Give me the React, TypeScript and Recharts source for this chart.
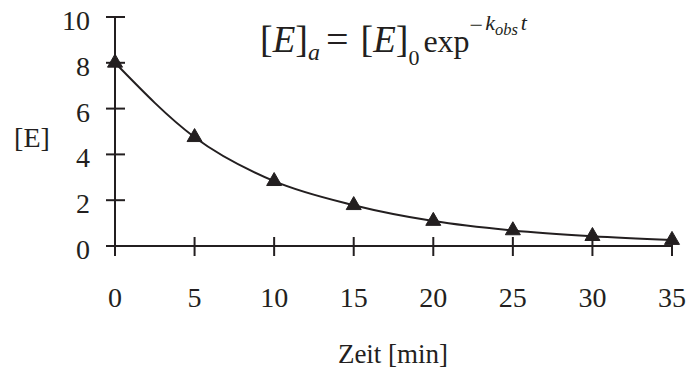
import React from 'react';
import { LineChart, Line, XAxis, YAxis } from 'recharts';

const timeMin = [0, 5, 10, 15, 20, 25, 30, 35];
const enzymeConc = [8, 4.75, 2.83, 1.78, 1.09, 0.68, 0.43, 0.26];
const xTicks = [0, 5, 10, 15, 20, 25, 30, 35];
const yTicks = [0, 2, 4, 6, 8, 10];

const data = timeMin.map((t, i) => ({ t, e: enzymeConc[i] }));

const INK = '#231f20';
const FONT = 'Liberation Serif';

const XTick = (props: any) => {
  const { x, y, payload } = props;
  return (
    <g>
      <line x1={x} x2={x} y1={y - 9} y2={y + 10} stroke={INK} strokeWidth={2} />
      <text x={x} y={y + 61} textAnchor="middle" style={{ fontFamily: FONT, fontSize: 28 }} fill={INK}>
        {payload.value}
      </text>
    </g>
  );
};

const YTick = (props: any) => {
  const { x, y, payload } = props;
  return (
    <g>
      <line x1={x - 9} x2={x + 10} y1={y} y2={y} stroke={INK} strokeWidth={2} />
      <text x={x - 25} y={y + 13} textAnchor="end" style={{ fontFamily: FONT, fontSize: 28 }} fill={INK}>
        {payload.value}
      </text>
    </g>
  );
};

const Triangle = (props: any) => {
  const { cx, cy, index } = props;
  if (cx == null || cy == null) return null;
  const w = 15;
  const h = 13;
  const d = `M${cx},${cy - (2 * h) / 3} L${cx + w / 2},${cy + h / 3} L${cx - w / 2},${cy + h / 3} Z`;
  return <path key={`tri-${index}`} d={d} fill={INK} stroke={INK} strokeWidth={1} />;
};

export default function App() {
  return (
    <div style={{ position: 'absolute', left: 0, top: 0, width: 689, height: 372, background: '#fff' }}>
      <LineChart width={689} height={372} data={data} margin={{ top: 17, right: 17, left: 0, bottom: 0 }}>
        <XAxis
          dataKey="t"
          type="number"
          domain={[0, 35]}
          ticks={xTicks}
          height={126}
          tickSize={0}
          tickMargin={0}
          tickLine={false}
          axisLine={{ stroke: INK, strokeWidth: 2 }}
          tick={<XTick />}
          interval={0}
        />
        <YAxis
          type="number"
          domain={[0, 10]}
          ticks={yTicks}
          width={115}
          tickSize={0}
          tickMargin={0}
          tickLine={false}
          axisLine={{ stroke: INK, strokeWidth: 2 }}
          tick={<YTick />}
          interval={0}
        />
        <Line
          dataKey="e"
          type="monotone"
          stroke={INK}
          strokeWidth={2}
          dot={<Triangle />}
          activeDot={false}
          isAnimationActive={false}
        />
      </LineChart>
      <svg
        width={689}
        height={372}
        style={{ position: 'absolute', left: 0, top: 0, pointerEvents: 'none' }}
      >
        <text x={32} y={147} textAnchor="middle" style={{ fontFamily: FONT, fontSize: 28 }} fill={INK}>
          [E]
        </text>
        <text x={393} y={363} textAnchor="middle" style={{ fontFamily: FONT, fontSize: 27 }} fill={INK}>
          Zeit [min]
        </text>
        <text x={260} y={52} style={{ fontFamily: FONT }} fill={INK}>
          <tspan fontSize={38}>[</tspan>
          <tspan fontSize={37} fontStyle="italic">E</tspan>
          <tspan fontSize={38}>]</tspan>
          <tspan fontSize={24} fontStyle="italic" dy={8}>a</tspan>
          <tspan fontSize={40} dx={6} dy={-7}>=</tspan>
          <tspan fontSize={38} dx={12} dy={-1}>[</tspan>
          <tspan fontSize={37} fontStyle="italic">E</tspan>
          <tspan fontSize={38}>]</tspan>
          <tspan fontSize={22} dy={13}>0</tspan>
          <tspan fontSize={32} dx={4} dy={-13}>exp</tspan>
          <tspan fontSize={24} dy={-19}>−</tspan>
          <tspan fontSize={22} fontStyle="italic" dx={2} dy={-3}>k</tspan>
          <tspan fontSize={16.5} fontStyle="italic" dy={5}>obs</tspan>
          <tspan fontSize={22} fontStyle="italic" dx={3} dy={-5}>t</tspan>
        </text>
      </svg>
    </div>
  );
}
